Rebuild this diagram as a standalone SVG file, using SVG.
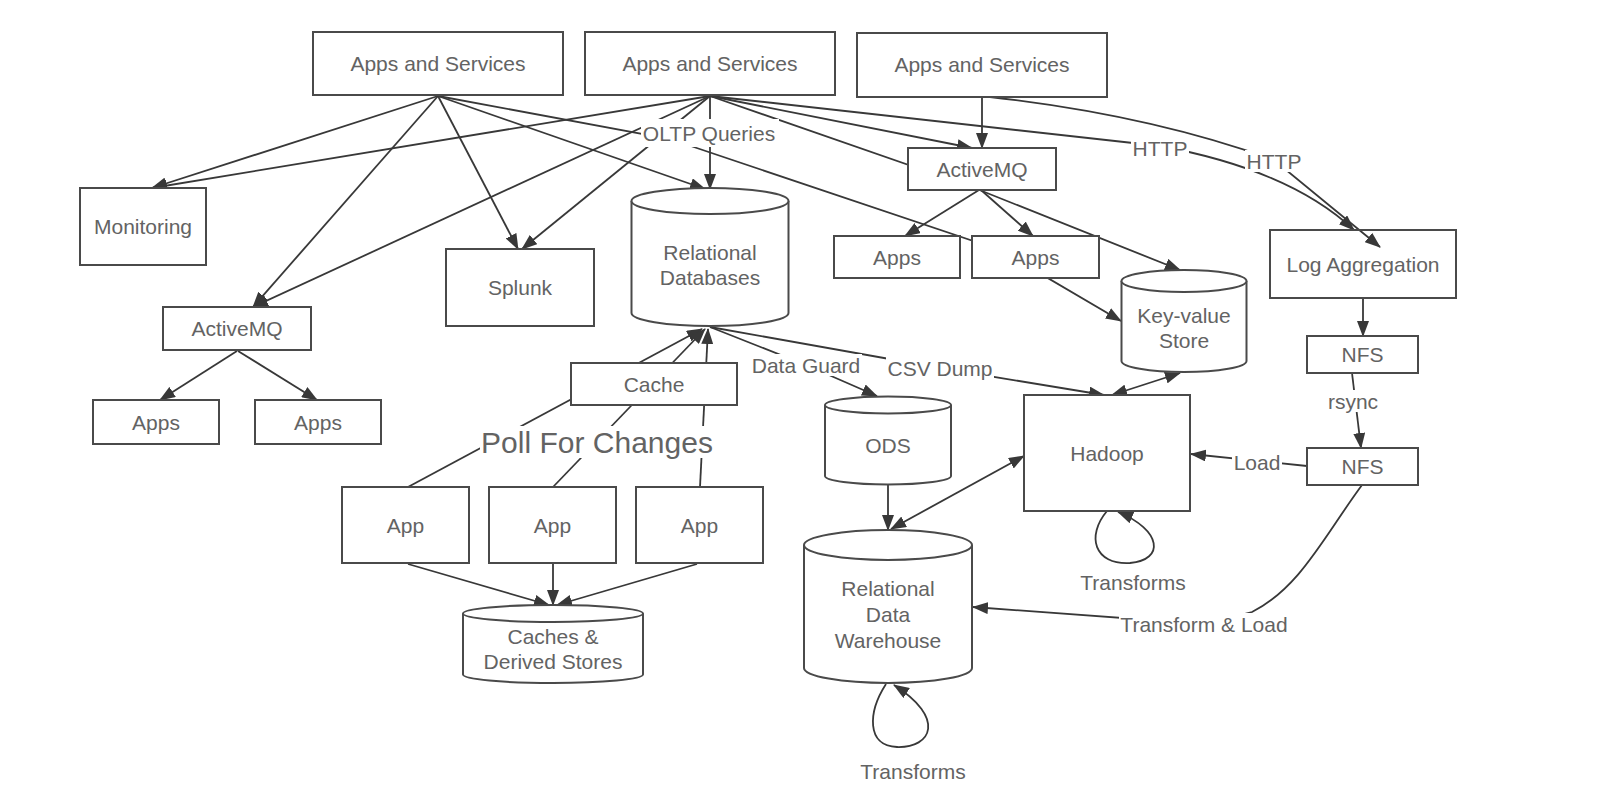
<svg xmlns="http://www.w3.org/2000/svg" width="1618" height="794" viewBox="0 0 1618 794">
<style>
  .bg { fill: #ffffff; }
  .box { fill: #ffffff; stroke: #4a4a4a; stroke-width: 2; }
  .hollow { fill: none; stroke: #4a4a4a; stroke-width: 2; }
  .t { font-family: "Liberation Sans", Arial, sans-serif; font-size: 21px; fill: #636363; text-anchor: middle; }
  .big { font-size: 30px; }
  .edge { fill: none; stroke: #383838; stroke-width: 1.8; }
  .arr { marker-end: url(#ah); }
  .both { marker-start: url(#ah); marker-end: url(#ah); }
  .lbg { fill: #ffffff; }
</style>
<defs>
  <marker id="ah" viewBox="0 0 16 12" refX="15" refY="6" markerWidth="16" markerHeight="12" markerUnits="userSpaceOnUse" orient="auto-start-reverse">
    <path d="M0,0 L16,6 L0,12 Z" fill="#383838"/>
  </marker>
</defs>
<rect class="bg" x="0" y="0" width="1618" height="794"/>

<g id="connectors">
  <path class="edge arr" d="M438,96 L152,188"/>
  <path class="edge arr" d="M710,96 L152,188"/>
  <path class="edge arr" d="M438,96 L253,307"/>
  <path class="edge arr" d="M710,96 L253,307"/>
  <path class="edge arr" d="M438,96 L518,249"/>
  <path class="edge arr" d="M710,96 L522,249"/>
  <path class="edge arr" d="M438,96 L705,189"/>
  <path class="edge arr" d="M710,96 L710,189"/>
  <path class="edge arr" d="M438,96 L670,139 L1000,250 L1121,321"/>
  <path class="edge arr" d="M710,96 L972,187 L1180,270"/>
  <path class="edge arr" d="M710,96 L972,148"/>
  <path class="edge arr" d="M982,97 L982,148"/>
  <path class="edge arr" d="M979,190 L905,236"/>
  <path class="edge arr" d="M981,190 L1033,236"/>
  <path class="edge arr" d="M710,96 L1160,146 Q1290,170 1354,230"/>
  <path class="edge arr" d="M990,97 Q1150,115 1274,160 L1380,247"/>
  <path class="edge arr" d="M1363,298 L1363,336"/>
  <path class="edge arr" d="M1352,373 L1361,448"/>
  <path class="edge arr" d="M1307,466 L1191,454"/>
  <path class="edge arr" d="M1362,485 C1325,535 1300,588 1252,612 L1204,624 L973,607"/>
  <path class="edge arr" d="M710,327 L806,365 L877,396"/>
  <path class="edge arr" d="M710,327 L940,368 L1104,395"/>
  <path class="edge both" d="M1180,373 L1112,395"/>
  <path class="edge arr" d="M888,485 L888,530"/>
  <path class="edge both" d="M891,529 L1024,456"/>
  <path class="edge arr" d="M1107,511 C1086,536 1094,565 1130,563 C1165,560 1162,530 1118,512"/>
  <path class="edge arr" d="M886,684 C868,712 866,746 897,747 C932,748 946,718 894,685"/>
  <path class="edge arr" d="M408,487 L702,329"/>
  <path class="edge arr" d="M553,487 L705,329"/>
  <path class="edge arr" d="M700,487 L708,329"/>
  <path class="edge arr" d="M408,564 L549,605"/>
  <path class="edge arr" d="M553,564 L553,605"/>
  <path class="edge arr" d="M697,564 L557,605"/>
  <path class="edge arr" d="M237,351 L160,400"/>
  <path class="edge arr" d="M238,351 L317,400"/>

  <rect class="lbg" x="641" y="119" width="138" height="28"/>
  <text class="t" x="709" y="140.5">OLTP Queries</text>
  <rect class="lbg" x="1131" y="137" width="58" height="22"/>
  <text class="t" x="1160" y="155.5">HTTP</text>
  <rect class="lbg" x="1245" y="150" width="58" height="22"/>
  <text class="t" x="1274" y="168.5">HTTP</text>
  <rect class="lbg" x="750" y="354" width="112" height="22"/>
  <text class="t" x="806" y="372.5">Data Guard</text>
  <rect class="lbg" x="886" y="357" width="108" height="22"/>
  <text class="t" x="940" y="375.5">CSV Dump</text>
  <rect class="lbg" x="480" y="426" width="234" height="32"/>
  <text class="t big" x="597" y="452.5">Poll For Changes</text>
  <rect class="lbg" x="1326" y="390" width="54" height="22"/>
  <text class="t" x="1353" y="408.5">rsync</text>
  <rect class="lbg" x="1232" y="451" width="50" height="22"/>
  <text class="t" x="1257" y="469.5">Load</text>
  <rect class="lbg" x="1119" y="613" width="170" height="22"/>
  <text class="t" x="1204" y="631.5">Transform &amp; Load</text>
  <text class="t" x="1133" y="589.5">Transforms</text>
  <text class="t" x="913" y="779">Transforms</text>
</g>

<g id="apps-services-1"><rect class="box" x="313" y="32" width="250" height="63"/><text class="t" x="438" y="71">Apps and Services</text></g>
<g id="apps-services-2"><rect class="box" x="585" y="32" width="250" height="63"/><text class="t" x="710" y="71">Apps and Services</text></g>
<g id="apps-services-3"><rect class="box" x="857" y="33" width="250" height="64"/><text class="t" x="982" y="72">Apps and Services</text></g>
<g id="monitoring"><rect class="box" x="80" y="188" width="126" height="77"/><text class="t" x="143" y="234">Monitoring</text></g>
<g id="activemq-left"><rect class="box" x="163" y="307" width="148" height="43"/><text class="t" x="237" y="336">ActiveMQ</text></g>
<g id="apps-left-1"><rect class="box" x="93" y="400" width="126" height="44"/><text class="t" x="156" y="429.5">Apps</text></g>
<g id="apps-left-2"><rect class="box" x="255" y="400" width="126" height="44"/><text class="t" x="318" y="429.5">Apps</text></g>
<g id="splunk"><rect class="box" x="446" y="249" width="148" height="77"/><text class="t" x="520" y="295">Splunk</text></g>
<g id="relational-databases">
  <path class="box" d="M631.5,201 L631.5,313 A78.5,13 0 0 0 788.5,313 L788.5,201"/>
  <ellipse class="box" cx="710" cy="201" rx="78.5" ry="13"/>
  <text class="t" x="710" y="259.5">Relational</text>
  <text class="t" x="710" y="284.5">Databases</text>
</g>
<g id="activemq-right"><rect class="box" x="908" y="148" width="148" height="42"/><text class="t" x="982" y="176.5">ActiveMQ</text></g>
<g id="apps-right-1"><rect class="box" x="834" y="236" width="126" height="42"/><text class="t" x="897" y="264.5">Apps</text></g>
<g id="apps-right-2"><rect class="box" x="972" y="236" width="127" height="42"/><text class="t" x="1035.5" y="264.5">Apps</text></g>
<g id="key-value-store">
  <path class="box" d="M1121.5,281 L1121.5,361 A62.5,11 0 0 0 1246.5,361 L1246.5,281"/>
  <ellipse class="box" cx="1184" cy="281" rx="62.5" ry="11"/>
  <text class="t" x="1184" y="322.5">Key-value</text>
  <text class="t" x="1184" y="347.5">Store</text>
</g>
<g id="log-aggregation"><rect class="hollow" x="1270" y="230" width="186" height="68"/><text class="t" x="1363" y="271.5">Log Aggregation</text></g>
<g id="nfs-1"><rect class="box" x="1307" y="336" width="111" height="37"/><text class="t" x="1362.5" y="362">NFS</text></g>
<g id="nfs-2"><rect class="box" x="1307" y="448" width="111" height="37"/><text class="t" x="1362.5" y="474">NFS</text></g>
<g id="hadoop"><rect class="box" x="1024" y="395" width="166" height="116"/><text class="t" x="1107" y="461">Hadoop</text></g>
<g id="ods">
  <path class="box" d="M825,405 L825,476 A63,8.5 0 0 0 951,476 L951,405"/>
  <ellipse class="box" cx="888" cy="405" rx="63" ry="8.5"/>
  <text class="t" x="888" y="452.5">ODS</text>
</g>
<g id="relational-data-warehouse">
  <path class="box" d="M804,545 L804,668 A84,15 0 0 0 972,668 L972,545"/>
  <ellipse class="box" cx="888" cy="545" rx="84" ry="15"/>
  <text class="t" x="888" y="595.5">Relational</text>
  <text class="t" x="888" y="622">Data</text>
  <text class="t" x="888" y="647.5">Warehouse</text>
</g>
<g id="cache"><rect class="box" x="571" y="363" width="166" height="42"/><text class="t" x="654" y="391.5">Cache</text></g>
<g id="app-1"><rect class="box" x="342" y="487" width="127" height="76"/><text class="t" x="405.5" y="532.5">App</text></g>
<g id="app-2"><rect class="box" x="489" y="487" width="127" height="76"/><text class="t" x="552.5" y="532.5">App</text></g>
<g id="app-3"><rect class="box" x="636" y="487" width="127" height="76"/><text class="t" x="699.5" y="532.5">App</text></g>
<g id="caches-derived-stores">
  <path class="box" d="M463,613.5 L463,674.5 A90,8.5 0 0 0 643,674.5 L643,613.5"/>
  <ellipse class="box" cx="553" cy="613.5" rx="90" ry="8.5"/>
  <text class="t" x="553" y="644">Caches &amp;</text>
  <text class="t" x="553" y="669">Derived Stores</text>
</g>
</svg>
